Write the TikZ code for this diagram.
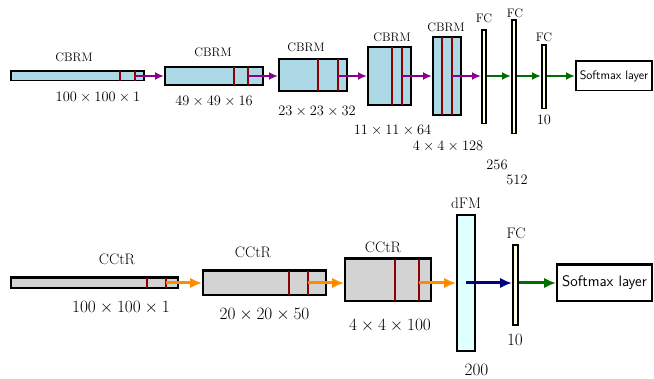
\documentclass[tikz,border=0pt]{standalone}
\usepackage{fontspec}
\usepackage{tikz}
\usetikzlibrary{arrows.meta}

\definecolor{cbrmblue}{RGB}{173,216,230}
\definecolor{cctrgray}{RGB}{211,211,211}
\definecolor{fcyellow}{RGB}{255,255,224}
\definecolor{dfmcyan}{RGB}{224,255,255}
\definecolor{relured}{RGB}{139,0,0}
\definecolor{poolpurple}{RGB}{139,0,139}
\definecolor{fcgreen}{RGB}{0,110,0}
\definecolor{cctrorange}{RGB}{255,140,0}
\definecolor{dfmnavy}{RGB}{0,0,128}

\begin{document}
\begin{tikzpicture}[x=1pt, y=-1pt,
  layer/.style={draw, line width=1.7pt, inner sep=0pt},
  cbrm/.style={layer, fill=cbrmblue},
  cctr/.style={layer, line width=2.2pt, fill=cctrgray},
  fc/.style={layer, fill=fcyellow},
  dfm/.style={layer, line width=2.2pt, fill=dfmcyan},
  soft/.style={layer, fill=white, font=\sffamily\fontsize{12.3}{14}\selectfont},
  topname/.style={inner sep=0pt, font=\fontsize{12.3}{14}\selectfont},
  topdim/.style={inner sep=0pt, font=\fontsize{14.5}{17}\selectfont},
  botname/.style={inner sep=0pt, font=\fontsize{15.2}{18}\selectfont},
  botdim/.style={inner sep=0pt, font=\fontsize{18}{21}\selectfont},
  relu/.style={draw=relured, line width=1.4pt, shorten <=0.8pt, shorten >=0.8pt},
  toplink/.style={line width=2.1pt, -{Latex[length=9pt, width=8pt]}},
  botlink/.style={line width=3pt, -{Latex[length=12pt, width=10.5pt]}}]
\useasboundingbox (0,0) rectangle (654,379);

% CNN with CBRM blocks
\node[cbrm, minimum width=133.3pt, minimum height=9.3pt] (b1) at (77.5,76) {};
\node[cbrm, minimum width=98.3pt, minimum height=18.3pt] (b2) at (214,76) {};
\node[cbrm, minimum width=68.3pt, minimum height=32.3pt] (b3) at (313,75) {};
\node[cbrm, minimum width=43.3pt, minimum height=58.3pt] (b4) at (389.5,76) {};
\node[cbrm, minimum width=28.3pt, minimum height=78.3pt] (b5) at (447,76) {};
\node[fc, minimum width=4.3pt, minimum height=93.3pt] (f1) at (484,77) {};
\node[fc, minimum width=4.3pt, minimum height=113.3pt] (f2) at (514,77) {};
\node[fc, minimum width=4.3pt, minimum height=63.3pt] (f3) at (544,77) {};
\node[soft, minimum width=76.3pt, minimum height=29.3pt] (s1) at (614,76) {Softmax layer};

\node[topname] (n-b1) at (74,57) {CBRM};
\node[topname] (n-b2) at (213,52) {CBRM};
\node[topname] (n-b3) at (306,47) {CBRM};
\node[topname] (n-b4) at (392,37) {CBRM};
\node[topname] (n-b5) at (446,27) {CBRM};
\node[topname] (n-f1) at (484,18) {FC};
\node[topname] (n-f2) at (515,13) {FC};
\node[topname] (n-f3) at (544,37) {FC};

\node[topdim] (d-b1) at (98,97) {$100\times100\times1$};
\node[topdim] (d-b2) at (214,101) {$49\times49\times16$};
\node[topdim] (d-b3) at (317,111) {$23\times23\times32$};
\node[topdim] (d-b4) at (392.5,130) {$11\times11\times64$};
\node[topdim] (d-b5) at (448,146) {$4\times4\times128$};
\node[topdim] (d-f1) at (497,165) {$256$};
\node[topdim] (d-f2) at (517,180) {$512$};
\node[topdim] (d-f3) at (544,120) {$10$};

\foreach \b/\s in {b1/-25, b1/-10, b2/-30, b2/-16, b3/-30, b3/-10, b4/-20, b4/-10, b5/-20, b5/-10}
  \draw[relu] ([xshift=\s pt]\b.north east) -- ([xshift=\s pt]\b.south east);

\draw[toplink, poolpurple] ([xshift=-10pt]b1.east) -- (b2.west);
\draw[toplink, poolpurple] ([xshift=-16pt]b2.east) -- (b3.west |- b2.east);
\draw[toplink, poolpurple] ([xshift=-10pt]b3.east |- b2.east) -- (b4.west);
\draw[toplink, poolpurple] ([xshift=-10pt]b4.east) -- (b5.west);
\draw[toplink, poolpurple] ([xshift=-10pt]b5.east) -- (f1.west |- b5.east);
\draw[toplink, fcgreen] (f1.east |- b5.east) -- (f2.west |- b5.east);
\draw[toplink, fcgreen] (f2.east |- b5.east) -- (f3.west |- b5.east);
\draw[toplink, fcgreen] (f3.east |- b5.east) -- (s1.west);

% CNN with CCtR blocks and dFM
\node[cctr, minimum width=166.8pt, minimum height=10.8pt] (c1) at (94.5,283) {};
\node[cctr, minimum width=122.8pt, minimum height=24.8pt] (c2) at (264.5,283) {};
\node[cctr, minimum width=85.8pt, minimum height=42.8pt] (c3) at (388,280) {};
\node[dfm, minimum width=17.8pt, minimum height=135.8pt] (m1) at (466,283) {};
\node[fc, line width=2.2pt, minimum width=4.8pt, minimum height=79.8pt] (f4) at (515.5,285) {};
\node[soft, line width=2.2pt, minimum width=94.8pt, minimum height=36.8pt,
  font=\sffamily\fontsize{15.2}{18}\selectfont] (s2) at (604.5,283) {Softmax layer};

\node[botname] (n-c1) at (117,259) {CCtR};
\node[botname] (n-c2) at (253,252) {CCtR};
\node[botname] (n-c3) at (383,247) {CCtR};
\node[botname] (n-m1) at (466,203) {dFM};
\node[botname] (n-f4) at (516,233) {FC};

\node[botdim] (d-c1) at (121,308) {$100\times100\times1$};
\node[botdim] (d-c2) at (264.5,315) {$20\times20\times50$};
\node[botdim] (d-c3) at (390,326) {$4\times4\times100$};
\node[botdim] (d-m1) at (476.5,370) {$200$};
\node[botdim] (d-f4) at (515,340) {$10$};

\foreach \b/\s in {c1/-32, c1/-13, c2/-38, c2/-19, c3/-37, c3/-13}
  \draw[relu, line width=1.9pt, shorten <=1.1pt, shorten >=1.1pt] ([xshift=\s pt]\b.north east) -- ([xshift=\s pt]\b.south east);

\draw[botlink, cctrorange] ([xshift=-13pt]c1.east) -- (c2.west);
\draw[botlink, cctrorange] ([xshift=-19pt]c2.east) -- (c3.west |- c2.east);
\draw[botlink, cctrorange] ([xshift=-13pt]c3.east |- c2.east) -- (m1.west |- c2.east);
\draw[botlink, dfmnavy] (m1.center) -- (f4.west |- m1.center);
\draw[botlink, fcgreen] (f4.east |- m1.center) -- (s2.west);
\end{tikzpicture}
\end{document}
